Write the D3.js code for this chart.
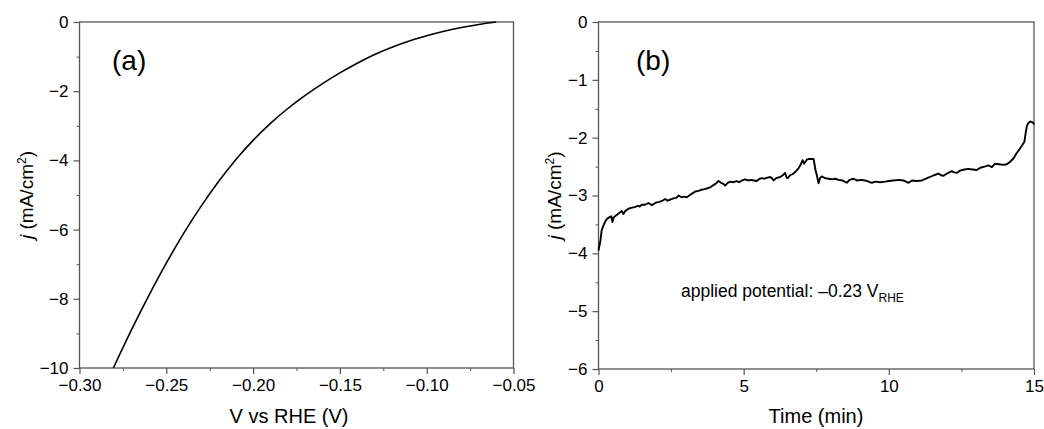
<!DOCTYPE html>
<html>
<head>
<meta charset="utf-8">
<script src="https://cdn.jsdelivr.net/npm/d3@7"></script>
<style>
  body { margin: 0; background: #fff; }
  text { font-family: "Liberation Sans", Arial, sans-serif; fill: #000; }
</style>
</head>
<body>
<div id="container"></div>
<script>
// panel (a): polarisation curve
let potential = [-0.2805, -0.27, -0.26, -0.25, -0.24, -0.23, -0.22, -0.21, -0.20, -0.19, -0.18,
  -0.17, -0.16, -0.15, -0.14, -0.13, -0.12, -0.11, -0.10, -0.09, -0.08, -0.07, -0.06];
let currentA = [-10, -8.89, -7.90, -6.97, -6.11, -5.33, -4.62, -3.98, -3.42, -2.93, -2.50,
  -2.12, -1.78, -1.47, -1.19, -0.94, -0.73, -0.55, -0.40, -0.27, -0.16, -0.07, 0];

// panel (b): chronoamperometry at -0.23 V
let time = [0, 0.02, 0.06, 0.11, 0.17, 0.23, 0.30, 0.40, 0.44, 0.48, 0.52, 0.57, 0.65, 0.72, 0.80, 0.86,
  0.92, 1.00, 1.08, 1.15, 1.25, 1.35, 1.42, 1.49, 1.60, 1.72, 1.84, 1.92, 2.00, 2.10, 2.20, 2.30, 2.38,
  2.47, 2.58, 2.68, 2.76, 2.86, 2.95, 3.04, 3.15, 3.25, 3.33, 3.45, 3.55, 3.65, 3.79, 3.88, 3.96, 4.05,
  4.13, 4.22, 4.30, 4.36, 4.45, 4.54, 4.65, 4.75, 4.85, 4.94, 5.05, 5.15, 5.25, 5.35, 5.45, 5.55, 5.63,
  5.72, 5.82, 5.91, 5.97, 6.03, 6.12, 6.26, 6.35, 6.43, 6.48, 6.52, 6.60, 6.72, 6.80, 6.89, 6.96, 7.03,
  7.08, 7.12, 7.18, 7.23, 7.32, 7.41, 7.47, 7.52, 7.58, 7.63, 7.69, 7.80, 7.92, 8.05, 8.15, 8.27, 8.40,
  8.55, 8.65, 8.78, 8.90, 9.05, 9.18, 9.30, 9.41, 9.55, 9.70, 9.87, 10.00, 10.15, 10.33, 10.50, 10.68,
  10.80, 10.95, 11.14, 11.28, 11.42, 11.55, 11.71, 11.80, 11.88, 12.00, 12.17, 12.25, 12.34, 12.45,
  12.60, 12.74, 12.88, 13.03, 13.15, 13.30, 13.43, 13.55, 13.66, 13.80, 13.95, 14.06, 14.17, 14.29,
  14.40, 14.50, 14.58, 14.67, 14.71, 14.75, 14.80, 14.87, 14.93, 14.98, 15.0];
let currentB = [-3.95, -3.90, -3.80, -3.60, -3.52, -3.45, -3.40, -3.37, -3.36, -3.46, -3.38, -3.36, -3.33,
  -3.30, -3.27, -3.32, -3.27, -3.24, -3.22, -3.21, -3.20, -3.18, -3.19, -3.16, -3.16, -3.13, -3.17, -3.14,
  -3.12, -3.11, -3.09, -3.06, -3.09, -3.07, -3.05, -3.04, -3.00, -3.03, -3.02, -3.03, -2.99, -2.96, -2.93,
  -2.92, -2.90, -2.89, -2.87, -2.85, -2.82, -2.79, -2.75, -2.78, -2.80, -2.83, -2.78, -2.76, -2.77, -2.75,
  -2.77, -2.74, -2.72, -2.74, -2.73, -2.74, -2.75, -2.71, -2.70, -2.71, -2.69, -2.68, -2.70, -2.74, -2.70,
  -2.68, -2.65, -2.61, -2.69, -2.70, -2.65, -2.62, -2.58, -2.53, -2.47, -2.39, -2.45, -2.42, -2.38, -2.37,
  -2.37, -2.37, -2.55, -2.65, -2.79, -2.70, -2.67, -2.70, -2.71, -2.72, -2.71, -2.73, -2.74, -2.78, -2.73,
  -2.71, -2.74, -2.73, -2.74, -2.76, -2.78, -2.76, -2.77, -2.76, -2.75, -2.74, -2.73, -2.74, -2.78, -2.74,
  -2.75, -2.74, -2.71, -2.68, -2.65, -2.62, -2.65, -2.66, -2.62, -2.58, -2.60, -2.61, -2.57, -2.55, -2.54,
  -2.55, -2.56, -2.52, -2.50, -2.48, -2.51, -2.45, -2.46, -2.47, -2.46, -2.42, -2.36, -2.27, -2.20, -2.14,
  -2.07, -1.93, -1.81, -1.75, -1.72, -1.73, -1.75, -1.77];

let xTicksA = [-0.30, -0.25, -0.20, -0.15, -0.10, -0.05];
let yTicksA = [0, -2, -4, -6, -8, -10];
let xTicksB = [0, 5, 10, 15];
let yTicksB = [0, -1, -2, -3, -4, -5, -6];

let width = 1044;
let height = 429;

let svg = d3.select('#container').append('svg')
  .attr('width', width).attr('height', height);

let minus = s => s.replace('-', '\u2212');

function drawPanel(cfg) {
  let x = d3.scaleLinear().domain(cfg.xDomain).range([cfg.left, cfg.right]);
  let y = d3.scaleLinear().domain(cfg.yDomain).range([cfg.bottom, cfg.top]);
  let g = svg.append('g');

  // minor ticks
  g.append('g').attr('transform', 'translate(0,' + cfg.bottom + ')')
    .call(d3.axisBottom(x).tickValues(cfg.xMinor).tickSize(3).tickFormat(''))
    .call(a => a.select('.domain').remove())
    .call(a => a.selectAll('line').attr('stroke', '#555'));
  g.append('g').attr('transform', 'translate(' + cfg.left + ',0)')
    .call(d3.axisLeft(y).tickValues(cfg.yMinor).tickSize(3).tickFormat(''))
    .call(a => a.select('.domain').remove())
    .call(a => a.selectAll('line').attr('stroke', '#555'));

  // major ticks + labels
  g.append('g').attr('transform', 'translate(0,' + cfg.bottom + ')')
    .call(d3.axisBottom(x).tickValues(cfg.xTicks).tickSize(6).tickPadding(5)
      .tickFormat(d => minus(cfg.xFmt(d))))
    .call(a => a.select('.domain').remove())
    .call(a => a.selectAll('line').attr('stroke', '#555').attr('stroke-width', 1.2))
    .call(a => a.selectAll('text').attr('font-size', 17).attr('fill', '#000'));
  g.append('g').attr('transform', 'translate(' + cfg.left + ',0)')
    .call(d3.axisLeft(y).tickValues(cfg.yTicks).tickSize(6).tickPadding(5)
      .tickFormat(d => minus(d3.format('d')(d))))
    .call(a => a.select('.domain').remove())
    .call(a => a.selectAll('line').attr('stroke', '#555').attr('stroke-width', 1.2))
    .call(a => a.selectAll('text').attr('font-size', 17).attr('fill', '#000'));

  // frame
  g.append('rect')
    .attr('x', cfg.left).attr('y', cfg.top)
    .attr('width', cfg.right - cfg.left).attr('height', cfg.bottom - cfg.top)
    .attr('fill', 'none').attr('stroke', '#555').attr('stroke-width', 1.3);

  // data line
  let line = d3.line()
    .x((d, i) => x(cfg.xs[i]))
    .y(d => y(d))
    .curve(cfg.curve);
  g.append('path').datum(cfg.ys)
    .attr('fill', 'none').attr('stroke', '#000')
    .attr('stroke-width', cfg.lw).attr('stroke-linejoin', 'round')
    .attr('d', line);

  // x title
  g.append('text').attr('x', cfg.xTitleX).attr('y', 423)
    .attr('text-anchor', 'middle').attr('font-size', 20).text(cfg.xTitle);

  // y title
  let yt = g.append('text')
    .attr('transform', 'translate(' + cfg.yTitleX + ',' + (cfg.top + cfg.bottom) / 2 + ') rotate(-90)')
    .attr('text-anchor', 'middle').attr('font-size', 19);
  yt.append('tspan').attr('font-style', 'italic').text('j');
  yt.append('tspan').text(' (mA/cm');
  yt.append('tspan').attr('font-size', 12).attr('dy', -7).text('2');
  yt.append('tspan').attr('dy', 7).text(')');

  // panel label
  g.append('text').attr('x', cfg.labelX).attr('y', 70)
    .attr('font-size', 28).text(cfg.label);

  return { x, y, g };
}

drawPanel({
  left: 79.5, right: 513.5, top: 22, bottom: 368,
  xDomain: [-0.30, -0.05], yDomain: [-10, 0],
  xTicks: xTicksA, yTicks: yTicksA,
  xMinor: [-0.275, -0.225, -0.175, -0.125, -0.075],
  yMinor: [-1, -3, -5, -7, -9],
  xFmt: d3.format('.2f'),
  xs: potential, ys: currentA, curve: d3.curveMonotoneX, lw: 1.6,
  xTitle: 'V vs RHE (V)', xTitleX: 289, yTitleX: 33,
  label: '(a)', labelX: 112
});

let pb = drawPanel({
  left: 598.5, right: 1034, top: 22, bottom: 369,
  xDomain: [0, 15], yDomain: [-6, 0],
  xTicks: xTicksB, yTicks: yTicksB,
  xMinor: [2.5, 7.5, 12.5],
  yMinor: [-0.5, -1.5, -2.5, -3.5, -4.5, -5.5],
  xFmt: d3.format('d'),
  xs: time, ys: currentB, curve: d3.curveLinear, lw: 1.9,
  xTitle: 'Time (min)', xTitleX: 816, yTitleX: 561,
  label: '(b)', labelX: 636
});

let note = pb.g.append('text').attr('x', 681).attr('y', 297).attr('font-size', 17.5);
note.append('tspan').text('applied potential: \u20130.23 V');
note.append('tspan').attr('font-size', 12).attr('dy', 5).text('RHE');
</script>
</body>
</html>
